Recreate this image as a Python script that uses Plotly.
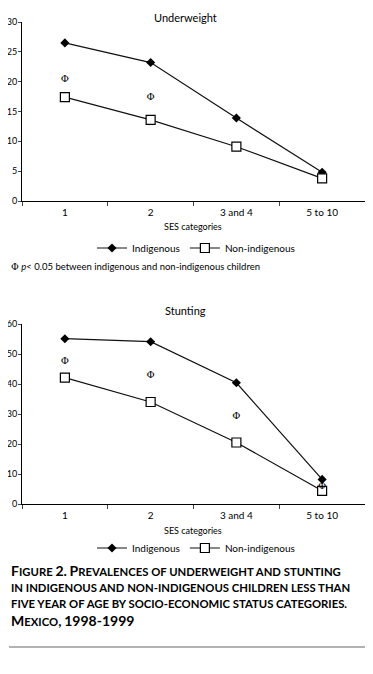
import plotly.graph_objects as go

categories = ["1", "2", "3 and 4", "5 to 10"]
uw_indigenous = [26.5, 23.2, 13.9, 4.8]
uw_nonindigenous = [17.4, 13.6, 9.1, 3.8]
uw_phi_cats = ["1", "2"]
uw_phi_vals = [20.3, 17.3]

st_indigenous = [55.2, 54.2, 40.5, 8.3]
st_nonindigenous = [42.2, 34.1, 20.6, 4.5]
st_phi_cats = ["1", "2", "3 and 4", "5 to 10"]
st_phi_vals = [47.5, 43.0, 29.2, 5.8]

# page body has an 8px default margin; size the figure to fill the rest
OFF = 8
W, H = 373 - OFF, 674 - OFF
FONT = "Lato, 'Open Sans', sans-serif"

def py(p):
    return 1 - (p - OFF) / H

def px(p):
    return (p - OFF) / W

fig = go.Figure()

line_col = "#111111"

def add_series(xa, ya, ind, non, leg):
    fig.add_trace(go.Scatter(x=categories, y=ind, mode="lines+markers", name="Indigenous",
                             xaxis=xa, yaxis=ya, legend=leg,
                             line=dict(color=line_col, width=1.2),
                             marker=dict(symbol="diamond", size=7, color="black")))
    fig.add_trace(go.Scatter(x=categories, y=non, mode="lines+markers", name="Non-indigenous",
                             xaxis=xa, yaxis=ya, legend=leg,
                             line=dict(color=line_col, width=1.2),
                             marker=dict(symbol="square", size=9, color="white",
                                         line=dict(color="black", width=1.2))))

add_series("x", "y", uw_indigenous, uw_nonindigenous, "legend")
add_series("x2", "y2", st_indigenous, st_nonindigenous, "legend2")

fig.add_trace(go.Scatter(x=uw_phi_cats, y=uw_phi_vals, mode="text", text=["Φ"] * len(uw_phi_cats),
                         textfont=dict(size=10, color="black", family="DejaVu Serif"),
                         xaxis="x", yaxis="y", showlegend=False))
fig.add_trace(go.Scatter(x=st_phi_cats, y=st_phi_vals, mode="text", text=["Φ"] * len(st_phi_cats),
                         textfont=dict(size=10, color="black", family="DejaVu Serif"),
                         xaxis="x2", yaxis="y2", showlegend=False))

xdom = [px(22), px(365)]
common_x = dict(type="category", categoryorder="array", categoryarray=categories,
                range=[-0.5, 3.5], tickson="boundaries", ticks="outside", ticklen=4,
                showline=True, linecolor="black", linewidth=1, showgrid=False,
                tickfont=dict(size=10, color="black", family=FONT), domain=xdom,
                zeroline=False, fixedrange=True, automargin=False, ticklabelstandoff=2)
common_y = dict(ticks="outside", ticklen=3, showline=True, linecolor="black", linewidth=1,
                showgrid=False, zeroline=False, tickfont=dict(size=9, color="black", family=FONT),
                fixedrange=True, automargin=False, ticklabelstandoff=-1)

fig.update_layout(
    width=W, height=H, margin=dict(l=0, r=0, t=0, b=0, autoexpand=False),
    paper_bgcolor="white", plot_bgcolor="white",
    font=dict(family=FONT, color="black", size=10),
    xaxis=dict(**common_x, anchor="y"),
    yaxis=dict(**common_y, domain=[py(201), py(22)], range=[0, 30], dtick=5, anchor="x"),
    xaxis2=dict(**common_x, anchor="y2"),
    yaxis2=dict(**common_y, domain=[py(504.3), py(324.3)], range=[0, 60], dtick=10, anchor="x2"),
    legend=dict(orientation="h", x=px(196), xanchor="center", y=py(248), yanchor="middle",
                font=dict(size=10, family=FONT), itemwidth=30, bgcolor="rgba(0,0,0,0)"),
    legend2=dict(orientation="h", x=px(196), xanchor="center", y=py(548), yanchor="middle",
                 font=dict(size=10, family=FONT), itemwidth=30, bgcolor="rgba(0,0,0,0)"),
    showlegend=True,
)

ann = []
ann.append(dict(text="Underweight", x=px(185), y=py(9), xref="paper", yref="paper",
                yanchor="top", showarrow=False, font=dict(size=11, family=FONT)))
ann.append(dict(text="Stunting", x=px(185), y=py(310), xref="paper", yref="paper",
                yanchor="middle", showarrow=False, font=dict(size=11, family=FONT)))
for yy in (227, 530):
    ann.append(dict(text="SES categories", x=px(193), y=py(yy), xref="paper", yref="paper",
                    yanchor="middle", showarrow=False, font=dict(size=9, family=FONT)))
ann.append(dict(text="<span style='font-family:DejaVu Serif'>Φ</span> <i>p</i>< 0.05 between indigenous and non-indigenous children",
                x=px(9), y=py(267), xref="paper", yref="paper", xanchor="left", yanchor="middle",
                showarrow=False, font=dict(size=9.5, family=FONT)))

def sc(text, big=14, small=11.3):
    out = []
    for word in text.split(" "):
        w = ""
        first = True
        for ch in word:
            if first and ch.isalpha():
                w += f"<span style='font-size:{big}px'>{ch}</span>"
                first = False
            elif ch.isalpha():
                w += f"<span style='font-size:{small}px'>{ch.upper()}</span>"
            else:
                w += f"<span style='font-size:{big}px'>{ch}</span>"
        out.append(w)
    return " ".join(out)

cap_lines = [
    ("Figure 2. Prevalences", " of underweight and stunting"),
    ("", "in indigenous and non-indigenous children less than"),
    ("", "five year of age by socio-economic status categories."),
    ("Mexico, 1998-1999", ""),
]
cap_y = [570, 587, 603, 620]
for (caps, lower), yy in zip(cap_lines, cap_y):
    txt = sc(caps) if caps else ""
    if lower:
        txt += f"<span style='font-size:11.3px'>{lower.upper()}</span>"
    ann.append(dict(text=f"<b>{txt}</b>", x=px(9), y=py(yy), xref="paper", yref="paper",
                    xanchor="left", yanchor="middle", showarrow=False,
                    font=dict(size=11.3, family=FONT)))

fig.update_layout(annotations=ann,
                  shapes=[dict(type="line", xref="paper", yref="paper", x0=px(9), x1=px(365),
                               y0=py(647), y1=py(647), line=dict(color="#999999", width=1.5))])

fig.write_html("out.html")
